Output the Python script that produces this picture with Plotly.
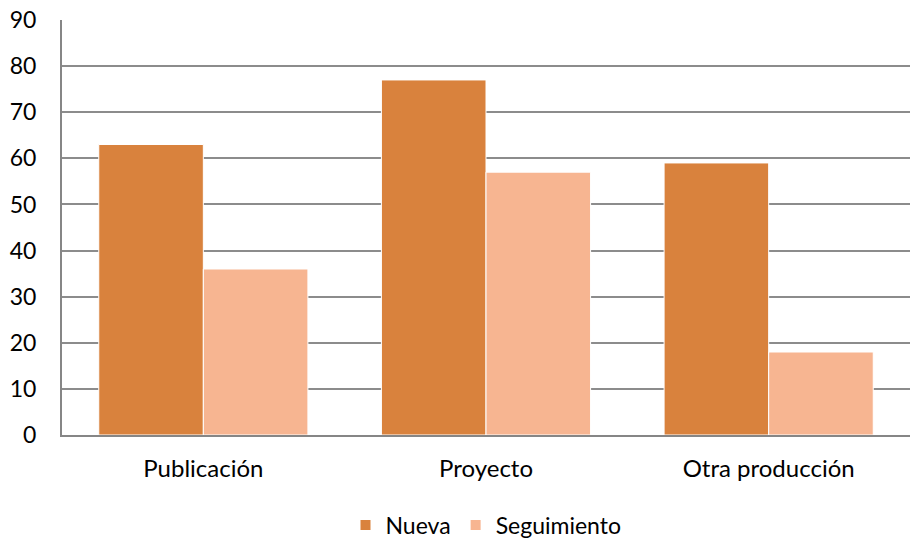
import plotly.graph_objects as go

categories = ["Publicación", "Proyecto", "Otra producción"]
nueva = [63, 77, 59]
seguimiento = [36, 57, 18]
y_ticks = [0, 10, 20, 30, 40, 50, 60, 70, 80, 90]

fig = go.Figure()
fig.add_trace(go.Bar(name="Nueva", x=categories, y=nueva,
                     marker=dict(color="#D9823D", line=dict(color="white", width=1))))
fig.add_trace(go.Bar(name="Seguimiento", x=categories, y=seguimiento,
                     marker=dict(color="#F7B591", line=dict(color="white", width=1))))

fig.update_layout(
    width=914, height=541,
    margin=dict(l=62, r=4, t=20, b=106, autoexpand=False),
    paper_bgcolor="white", plot_bgcolor="white",
    barmode="group", bargap=0.26, bargroupgap=0,
    font=dict(family="Lato, 'Open Sans', sans-serif", size=23, color="black"),
    legend=dict(orientation="h", x=0.5, xanchor="center",
                y=-0.217, yanchor="middle",
                font=dict(size=23), itemsizing="constant", traceorder="normal"),
    xaxis=dict(showline=True, linecolor="#868686", linewidth=2, ticks="",
               automargin=False, ticklabelstandoff=11,
               tickfont=dict(size=24)),
    yaxis=dict(range=[0, 90], tickvals=y_ticks, showgrid=True, gridcolor="#8C8C8C",
               gridwidth=1.5, showline=True, linecolor="#868686", linewidth=2,
               zeroline=False, ticks="", ticklabelstandoff=19, automargin=False,
               tickfont=dict(size=23)),
)
fig.write_html("out.html", config={"displayModeBar": False},
               post_script="document.body.style.margin='0';document.body.style.padding='0';")
